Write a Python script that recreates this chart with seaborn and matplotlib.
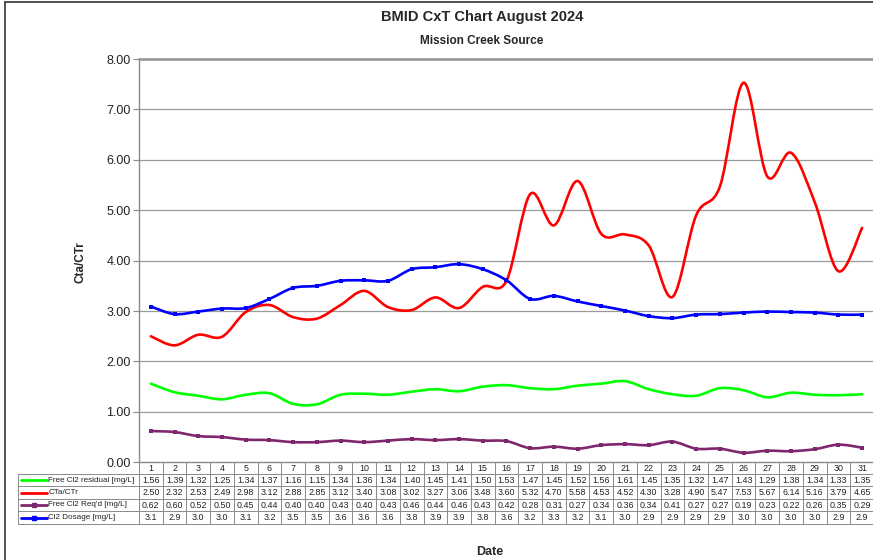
import numpy as np
import pandas as pd
import matplotlib
matplotlib.use("Agg")
import matplotlib.pyplot as plt
from matplotlib.path import Path
from matplotlib.patches import PathPatch
from matplotlib.lines import Line2D
import seaborn as sns

# ---------------- data ----------------
days = list(range(1, 32))
free_cl2_residual = [1.56, 1.39, 1.32, 1.25, 1.34, 1.37, 1.16, 1.15, 1.34, 1.36, 1.34, 1.40, 1.45, 1.41, 1.50, 1.53,
                     1.47, 1.45, 1.52, 1.56, 1.61, 1.45, 1.35, 1.32, 1.47, 1.43, 1.29, 1.38, 1.34, 1.33, 1.35]
cta_ctr = [2.50, 2.32, 2.53, 2.49, 2.98, 3.12, 2.88, 2.85, 3.12, 3.40, 3.08, 3.02, 3.27, 3.06, 3.48, 3.60,
           5.32, 4.70, 5.58, 4.53, 4.52, 4.30, 3.28, 4.90, 5.47, 7.53, 5.67, 6.14, 5.16, 3.79, 4.65]
free_cl2_reqd = [0.62, 0.60, 0.52, 0.50, 0.45, 0.44, 0.40, 0.40, 0.43, 0.40, 0.43, 0.46, 0.44, 0.46, 0.43, 0.42,
                 0.28, 0.31, 0.27, 0.34, 0.36, 0.34, 0.41, 0.27, 0.27, 0.19, 0.23, 0.22, 0.26, 0.35, 0.29]
cl2_dosage = [3.09, 2.94, 2.99, 3.05, 3.06, 3.24, 3.46, 3.50, 3.60, 3.61, 3.60, 3.83, 3.87, 3.93, 3.83, 3.61,
              3.24, 3.30, 3.19, 3.10, 3.01, 2.90, 2.86, 2.93, 2.94, 2.97, 2.99, 2.98, 2.97, 2.93, 2.93]
series_names = ["Free Cl2 residual [mg/L]", "CTa/CTr", "Free Cl2 Req'd [mg/L]", "Cl2 Dosage [mg/L]"]
series_colors = ["#00FF00", "#FF0000", "#7E276E", "#0000FF"]
series_markers = [None, None, "s", "s"]
series_fmt = ["{:.2f}", "{:.2f}", "{:.2f}", "{:.1f}"]
y_ticks = [0, 1, 2, 3, 4, 5, 6, 7, 8]

series_values = [free_cl2_residual, cta_ctr, free_cl2_reqd, cl2_dosage]
df = pd.DataFrame({"day": days})
for n, v in zip(series_names, series_values):
    df[n] = v

# ---------------- figure ----------------
sns.set_theme(style="white")
plt.rcParams["font.family"] = ["Liberation Sans", "DejaVu Sans"]

W, H = 873, 560
fig = plt.figure(figsize=(W / 100, H / 100), dpi=100)
fig.patch.set_facecolor("white")

ax_l, ax_r, ax_t, ax_b = 139, 874, 59, 462.3
ax = fig.add_axes([ax_l / W, 1 - ax_b / H, (ax_r - ax_l) / W, (ax_b - ax_t) / H])
ax.set_facecolor("white")


def smooth_path(xs, ys):
    pts = np.column_stack([xs, ys]).astype(float)
    n = len(pts)
    verts = [pts[0]]
    codes = [Path.MOVETO]
    for i in range(n - 1):
        p0 = pts[i - 1] if i > 0 else pts[i]
        p1 = pts[i]
        p2 = pts[i + 1]
        p3 = pts[i + 2] if i + 2 < n else pts[i + 1]
        c1 = p1 + (p2 - p0) / 6.0
        c2 = p2 - (p3 - p1) / 6.0
        verts += [c1, c2, p2]
        codes += [Path.CURVE4] * 3
    return Path(verts, codes)


for name, col, mk in zip(series_names, series_colors, series_markers):
    path = smooth_path(df["day"].values, df[name].values)
    ax.add_patch(PathPatch(path, facecolor="none", edgecolor=col, lw=1.9, zorder=3,
                           capstyle="round", joinstyle="round"))
    if mk:
        sns.lineplot(data=df, x="day", y=name, ax=ax, color=col, lw=0, marker=mk,
                     markersize=3.2, markeredgewidth=0, zorder=4)
    else:
        sns.lineplot(data=df, x="day", y=name, ax=ax, color=col, lw=0, zorder=2)

ax.set_xlim(0.5, 31.5)
ax.set_ylim(0, 8)
ax.set_yticks(y_ticks)
ax.set_yticklabels([f"{t:.2f}" for t in y_ticks], fontsize=9, color="#222222")
ax.set_xticks([])
ax.set_xlabel("")
ax.set_ylabel("")
for y in y_ticks[1:-1]:
    ax.axhline(y, color="#9A9A9A", lw=0.9, zorder=1)
ax.axhline(8, color="#9A9A9A", lw=2.0, zorder=1, clip_on=False)
for s in ["top", "right"]:
    ax.spines[s].set_visible(False)
ax.spines["left"].set_color("#8A8A8A")
ax.spines["left"].set_linewidth(1.0)
ax.spines["bottom"].set_color("#8A8A8A")
ax.spines["bottom"].set_linewidth(1.0)
ax.tick_params(axis="y", length=4, width=0.8, color="#8A8A8A", pad=2, left=True)

# ---------------- data table (drawn in figure pixels) ----------------
def fx(x):
    return x / W


def fy(y):
    return 1 - y / H


def hline(x0, x1, y, c="#8A8A8A", lw=0.7):
    fig.add_artist(Line2D([fx(x0), fx(x1)], [fy(y), fy(y)], color=c, lw=lw, transform=fig.transFigure))


def vline(x, y0, y1, c="#8A8A8A", lw=0.7):
    fig.add_artist(Line2D([fx(x), fx(x)], [fy(y0), fy(y1)], color=c, lw=lw, transform=fig.transFigure))


col_w = (ax_r - ax_l) / 31
tab_left, tab_right = 18, 872.5
row_edges = [462.3, 474.0, 486.3, 498.7, 511.3, 524.0]

for k, y in enumerate(row_edges[1:]):
    hline(tab_left, tab_right, y)
for k in range(32):
    x = min(ax_l + k * col_w, tab_right)
    vline(x, row_edges[0], row_edges[-1])
vline(tab_left, row_edges[1], row_edges[-1])

fs_tab = 6.4
for j, d in enumerate(days):
    xc = ax_l + (j + 0.5) * col_w
    fig.text(fx(xc), fy((row_edges[0] + row_edges[1]) / 2), str(d), fontsize=fs_tab,
             color="#222222", ha="center", va="center")
for i, (vals, fmt) in enumerate(zip(series_values, series_fmt)):
    yc = (row_edges[i + 1] + row_edges[i + 2]) / 2
    for j, v in enumerate(vals):
        xc = ax_l + (j + 0.5) * col_w
        fig.text(fx(xc), fy(yc), fmt.format(v), fontsize=fs_tab, color="#222222",
                 ha="center", va="center")

# legend keys in row label cells
for i, (name, col, mk) in enumerate(zip(series_names, series_colors, series_markers)):
    yc = (row_edges[i + 1] + row_edges[i + 2]) / 2
    fig.add_artist(Line2D([fx(21), fx(47)], [fy(yc), fy(yc)], color=col, lw=2.0,
                          transform=fig.transFigure))
    if mk:
        fig.add_artist(Line2D([fx(34)], [fy(yc)], color=col, marker=mk, markersize=3.2, lw=0,
                              transform=fig.transFigure))
    fig.text(fx(48.3), fy(yc), name, fontsize=5.9, color="#222222", ha="left", va="center")

# ---------------- titles ----------------
fig.text(482 / W, 1 - 17 / H, "BMID CxT Chart August 2024", fontsize=10.5, fontweight="bold",
         ha="center", va="center", family=["Liberation Sans Narrow", "Liberation Sans"])
fig.text(482 / W, 1 - 41 / H, "Mission Creek Source", fontsize=8.5, fontweight="bold",
         ha="center", va="center", family=["Liberation Sans Narrow", "Liberation Sans"])
fig.text(80 / W, 1 - 262 / H, "Cta/CTr", fontsize=8.5, fontweight="bold", rotation=90,
         ha="center", va="center", family=["Liberation Sans Narrow", "Liberation Sans"])
fig.text(490 / W, 1 - 552 / H, "Date", fontsize=9, fontweight="bold",
         ha="center", va="center", family=["Liberation Sans Narrow", "Liberation Sans"])

# outer chart frame (left and top edges visible)
fig.add_artist(Line2D([fx(5), fx(5)], [0, fy(2)], color="#333333", lw=1.2, transform=fig.transFigure))
fig.add_artist(Line2D([fx(5), 1], [fy(2), fy(2)], color="#333333", lw=1.2, transform=fig.transFigure))

fig.savefig("out.png", dpi=100, facecolor="white")
